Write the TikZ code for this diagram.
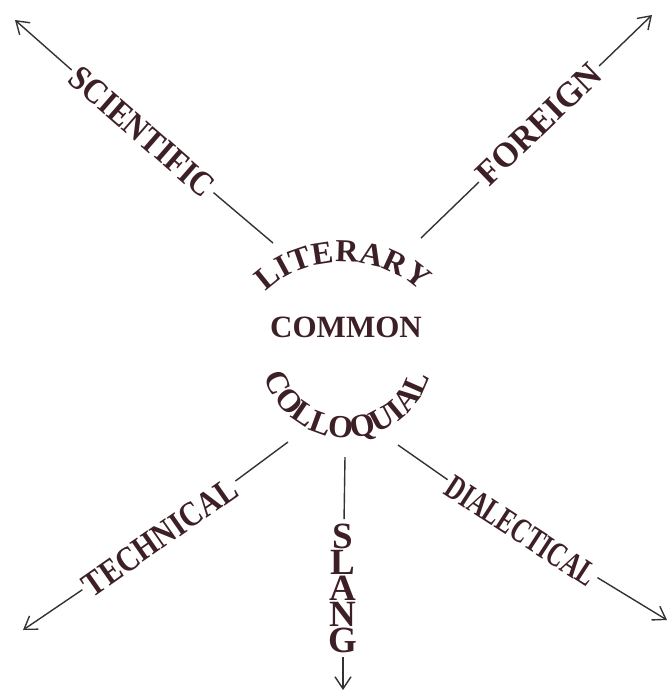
\documentclass[tikz,border=0pt]{standalone}
\usepackage{fontspec}
\setmainfont{Liberation Serif}
\usetikzlibrary{arrows.meta,decorations.text}
\definecolor{ink}{HTML}{3D1F26}
\definecolor{rule}{HTML}{333333}
\begin{document}
\begin{tikzpicture}[x=0.5pt, y=0.5pt,
    wd/.style={font=\fontsize{17.5}{20}\selectfont\bfseries, text=ink, inner sep=2pt},
    ln/.style={draw=rule, line width=0.7pt},
    arr/.style={ln, -{Straight Barb[length=6pt,width=8pt]}}]

  \useasboundingbox (0,0) rectangle (669,-693);

  \node[wd, font=\fontsize{15.5}{18}\selectfont\bfseries] (common) at (346,-327) {COMMON};

  % words bent round the centre
  \path[decorate, decoration={text along path, text align=center, text color=ink,
      text={|\fontsize{16}{18}\selectfont\bfseries|LITERARY}}]
    (343,-335) ++(152:95 and 73) arc[start angle=152, end angle=28, x radius=95, y radius=73];
  \path[decorate, decoration={text along path, text align=center, text color=ink,
      text={|\fontsize{16}{18}\selectfont\bfseries|COLLOQUIAL}}]
    (347,-352) ++(194:86) arc[start angle=194, end angle=346, radius=86];

  % the five arms
  \foreach \n/\x/\y/\a/\s/\t in {%
    sci/142/-132/-41/0.88/SCIENTIFIC,
    for/539/-124/44/0.97/FOREIGN,
    tec/160/-537/35/0.85/TECHNICAL,
    dia/521/-531/-33/0.70/DIALECTICAL}
  {
    \node[wd, rotate=\a, xscale=\s] (\n) at (\x,\y) {\t};
  }
  \node[wd, font=\fontsize{18.5}{13}\selectfont\bfseries, align=center]
    (sla) at (343,-588) {S\\L\\A\\N\\G};

  \coordinate (sci-in) at (273,-243);  \coordinate (sci-out) at (15,-20);
  \coordinate (for-in) at (421,-238);  \coordinate (for-out) at (652,-15);
  \coordinate (tec-in) at (288,-442);  \coordinate (tec-out) at (23,-630);
  \coordinate (sla-in) at (345,-457);  \coordinate (sla-out) at (343,-690);
  \coordinate (dia-in) at (398,-445);  \coordinate (dia-out) at (667,-620);

  \foreach \n in {sci,for,tec,sla,dia}
  {
    \draw[ln] (\n-in) -- (\n);
    \draw[arr] (\n) -- (\n-out);
  }
\end{tikzpicture}
\end{document}
